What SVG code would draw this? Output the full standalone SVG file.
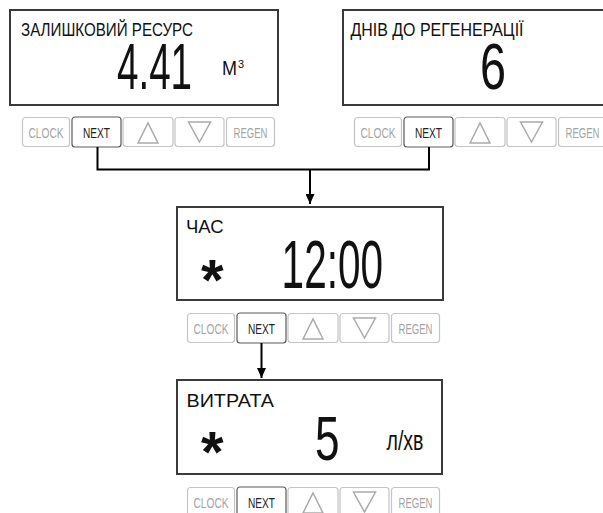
<svg xmlns="http://www.w3.org/2000/svg" xmlns:xlink="http://www.w3.org/1999/xlink" width="603" height="513" viewBox="0 0 603 513">
<style>
.scr{fill:#fff;stroke:#3a3a3a;stroke-width:2}
.lbl{font-family:"Liberation Sans",Arial,sans-serif;font-size:18.5px;fill:#111}
.big{font-family:"Liberation Sans",Arial,sans-serif;fill:#111}
.ast{font-family:"Liberation Sans",Arial,sans-serif;font-weight:bold;font-size:58px;fill:#111}
.k{fill:#fff;stroke:#c4c4c4;stroke-width:1.2}
.kn{fill:#fff;stroke:#5a5a5a;stroke-width:1.2}
.kt{font-family:"Liberation Sans",Arial,sans-serif;font-size:14px;fill:#a4a4a4;text-anchor:middle}
.ktn{font-family:"Liberation Sans",Arial,sans-serif;font-size:14px;fill:#222;text-anchor:middle}
.tri{fill:none;stroke:#aaa;stroke-width:1.5;stroke-linejoin:miter}
.con{fill:none;stroke:#000;stroke-width:2}
</style>
<defs>
<marker id="ah" viewBox="0 0 10 9" refX="10" refY="4.5" markerWidth="10" markerHeight="9" markerUnits="userSpaceOnUse" orient="auto">
<path d="M0,0 L10,4.5 L0,9 z" fill="#000"/>
</marker>
<g id="keys">
<rect class="k" x="0.5" y="0.5" width="47" height="29" rx="3"/>
<text class="kt" x="24" y="20.5" textLength="35" lengthAdjust="spacingAndGlyphs">CLOCK</text>
<rect class="kn" x="50" y="0" width="49" height="30" rx="3"/>
<text class="ktn" x="74.5" y="20.5" textLength="27" lengthAdjust="spacingAndGlyphs">NEXT</text>
<rect class="k" x="101" y="0.5" width="50" height="29" rx="3"/>
<path class="tri" d="M116,26 L126,6 L136,26 z"/>
<rect class="k" x="153" y="0.5" width="49" height="29" rx="3"/>
<path class="tri" d="M166.5,5 L188.5,5 L177.5,25 z"/>
<rect class="k" x="204.5" y="0.5" width="48" height="29" rx="3"/>
<text class="kt" x="228.5" y="20.5" textLength="34" lengthAdjust="spacingAndGlyphs">REGEN</text>
</g>
</defs>
<rect width="603" height="513" fill="#fff"/>

<g id="node-resource">
<rect class="scr" x="10" y="10" width="268" height="95"/>
<text class="lbl" x="21" y="35.7" textLength="172" lengthAdjust="spacingAndGlyphs">ЗАЛИШКОВИЙ РЕСУРС</text>
<text class="big" x="117" y="89" font-size="64" textLength="75" lengthAdjust="spacingAndGlyphs">4.41</text>
<text class="big" x="222" y="75" font-size="20" textLength="15" lengthAdjust="spacingAndGlyphs">М</text>
<text class="big" x="238" y="68" font-size="11">3</text>
<use xlink:href="#keys" x="22" y="117"/>
</g>

<g id="node-days">
<rect class="scr" x="343" y="10" width="270" height="95"/>
<text class="lbl" x="350.5" y="36" textLength="173" lengthAdjust="spacingAndGlyphs">ДНІВ ДО РЕГЕНЕРАЦІЇ</text>
<text class="big" x="480" y="89" font-size="64" textLength="26" lengthAdjust="spacingAndGlyphs">6</text>
<use xlink:href="#keys" x="354" y="117"/>
</g>

<g id="node-time">
<rect class="scr" x="177" y="207" width="266" height="93"/>
<text class="lbl" x="186" y="232.5">ЧАС</text>
<text class="ast" x="201" y="299.5">*</text>
<text class="big" x="281.6" y="288" font-size="68" textLength="101.4" lengthAdjust="spacingAndGlyphs">12:00</text>
<use xlink:href="#keys" x="187" y="313"/>
</g>

<g id="node-flow">
<rect class="scr" x="177" y="380" width="265" height="94"/>
<text class="lbl" x="186.5" y="407" textLength="87.5" lengthAdjust="spacingAndGlyphs">ВИТРАТА</text>
<text class="ast" x="201" y="471.5">*</text>
<text class="big" x="315" y="460" font-size="63" textLength="24.5" lengthAdjust="spacingAndGlyphs">5</text>
<text class="big" x="386.5" y="450" font-size="28" textLength="37" lengthAdjust="spacingAndGlyphs">л/хв</text>
<use xlink:href="#keys" x="187" y="487"/>
</g>

<g id="connectors">
<path class="con" d="M97.5,147 V169.5 H429 V147"/>
<path class="con" d="M310,169.5 V204" marker-end="url(#ah)"/>
<path class="con" d="M261.5,343 V378" marker-end="url(#ah)"/>
</g>
</svg>
